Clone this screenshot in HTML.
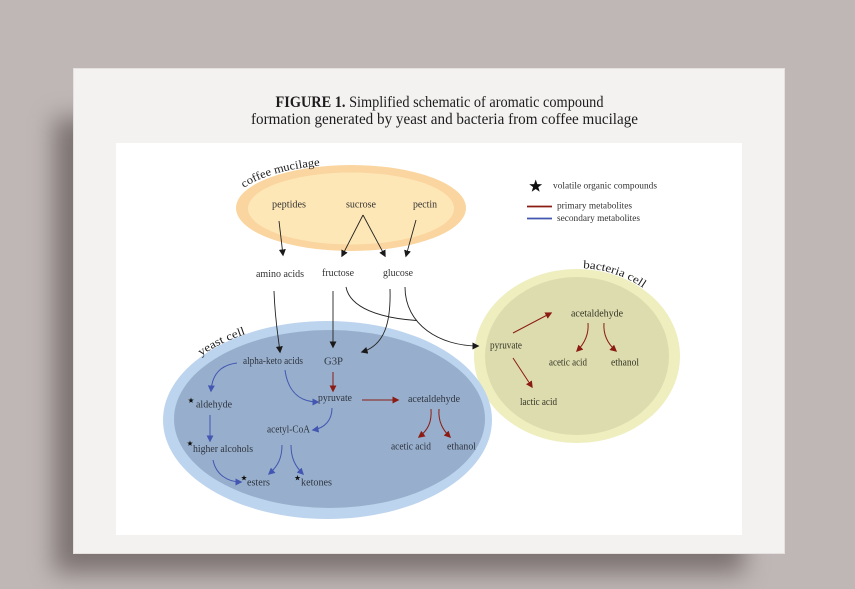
<!DOCTYPE html>
<html>
<head>
<meta charset="utf-8">
<style>
html,body{margin:0;padding:0;}
body{width:855px;height:589px;background:#bfb7b6;position:relative;overflow:hidden;font-family:"Liberation Serif",serif;}
.shadow{position:absolute;left:54px;top:118px;width:690px;height:455px;background:rgba(70,58,58,0.55);filter:blur(12px);}
.card{position:absolute;left:74px;top:69px;width:710px;height:484px;background:#f4f2f1;box-shadow:0 0 0 1px #e4e1df;}
svg{position:absolute;left:0;top:0;}
</style>
</head>
<body>
<div class="shadow"></div>
<div class="card"></div>
<svg width="855" height="589" viewBox="0 0 855 589" xmlns="http://www.w3.org/2000/svg">
  <defs>
    <marker id="ak" viewBox="0 0 10 10" refX="8" refY="5" markerWidth="7" markerHeight="7" markerUnits="userSpaceOnUse" orient="auto">
      <path d="M0,0 L10,5 L0,10 z" fill="#1a1a1a"/>
    </marker>
    <marker id="ar" viewBox="0 0 10 10" refX="8" refY="5" markerWidth="7" markerHeight="7" markerUnits="userSpaceOnUse" orient="auto">
      <path d="M0,0 L10,5 L0,10 z" fill="#8b1c14"/>
    </marker>
    <marker id="ab" viewBox="0 0 10 10" refX="8" refY="5" markerWidth="7" markerHeight="7" markerUnits="userSpaceOnUse" orient="auto">
      <path d="M0,0 L10,5 L0,10 z" fill="#4357b2"/>
    </marker>
    <path id="star" d="M0,-1 L0.235,-0.324 L0.951,-0.309 L0.380,0.124 L0.588,0.809 L0,0.4 L-0.588,0.809 L-0.380,0.124 L-0.951,-0.309 L-0.235,-0.324 Z"/>
    <path id="pCoffee" d="M244,188 A115,43 0 0,1 330,165"/>
    <path id="pBact" d="M583,268.2 A104,88 0 0,1 655,297.8"/>
    <path id="pYeast" d="M201,356 A165,99 0 0,1 257,330.5"/>
  </defs>

  <!-- Title -->
  <text x="275.5" y="107" font-size="16" fill="#1c1c1c" font-family="Liberation Serif, serif" textLength="328" lengthAdjust="spacingAndGlyphs"><tspan font-weight="bold">FIGURE 1.</tspan> Simplified schematic of aromatic compound</text>
  <text x="251" y="124" font-size="16" fill="#1c1c1c" font-family="Liberation Serif, serif" textLength="387" lengthAdjust="spacingAndGlyphs">formation generated by yeast and bacteria from coffee mucilage</text>

  <!-- inner white panel -->
  <rect x="116" y="143" width="626" height="392" fill="#ffffff"/>

  <!-- coffee mucilage ellipse -->
  <ellipse cx="351" cy="208" rx="115" ry="43" fill="#fad59f"/>
  <ellipse cx="351" cy="208.5" rx="103" ry="36" fill="#fee7b6"/>

  <!-- bacteria cell -->
  <ellipse cx="577" cy="356" rx="103" ry="87" fill="#efeebf"/>
  <ellipse cx="577" cy="356" rx="92" ry="79" fill="#dddcaf"/>

  <!-- yeast cell -->
  <ellipse cx="327.5" cy="420" rx="164.5" ry="99" fill="#bdd4ee"/>
  <ellipse cx="329.5" cy="419" rx="155.5" ry="89" fill="#97afcc"/>

  <!-- curved labels -->
  <text font-size="11.5" fill="#222" font-family="Liberation Serif, serif"><textPath href="#pCoffee" textLength="80" lengthAdjust="spacingAndGlyphs">coffee mucilage</textPath></text>
  <text font-size="11.5" fill="#222" font-family="Liberation Serif, serif"><textPath href="#pBact" textLength="64" lengthAdjust="spacingAndGlyphs">bacteria cell</textPath></text>
  <text font-size="11.5" fill="#222" font-family="Liberation Serif, serif"><textPath href="#pYeast" textLength="50" lengthAdjust="spacingAndGlyphs">yeast cell</textPath></text>

  <!-- legend -->
  <use href="#star" transform="translate(535.7,186.3) scale(6.8)" fill="#111"/>
  <text x="553" y="188.5" font-size="9.5" fill="#333" textLength="104" lengthAdjust="spacingAndGlyphs">volatile organic compounds</text>
  <line x1="527" y1="206.5" x2="552" y2="206.5" stroke="#8b1c14" stroke-width="1.8"/>
  <text x="557" y="208.5" font-size="9.5" fill="#333" textLength="75" lengthAdjust="spacingAndGlyphs">primary metabolites</text>
  <line x1="527" y1="218.5" x2="552" y2="218.5" stroke="#4357b2" stroke-width="1.8"/>
  <text x="557" y="221" font-size="9.5" fill="#333" textLength="83" lengthAdjust="spacingAndGlyphs">secondary metabolites</text>

  <g font-size="10" fill="#333" font-family="Liberation Serif, serif" text-anchor="start">
    <!-- mucilage labels -->
    <text x="272" y="207.5" textLength="34" lengthAdjust="spacingAndGlyphs">peptides</text>
    <text x="346" y="207.5" textLength="30" lengthAdjust="spacingAndGlyphs">sucrose</text>
    <text x="413" y="207.5" textLength="24" lengthAdjust="spacingAndGlyphs">pectin</text>
    <!-- sugars row -->
    <text x="256" y="277" textLength="48" lengthAdjust="spacingAndGlyphs">amino acids</text>
    <text x="322" y="276" textLength="32" lengthAdjust="spacingAndGlyphs">fructose</text>
    <text x="383" y="276" textLength="30" lengthAdjust="spacingAndGlyphs">glucose</text>
  </g>

  <g font-size="10" fill="#2f3440" font-family="Liberation Serif, serif">
    <!-- yeast labels -->
    <text x="243" y="364" textLength="60" lengthAdjust="spacingAndGlyphs">alpha-keto acids</text>
    <text x="324" y="364.5" textLength="19" lengthAdjust="spacingAndGlyphs">G3P</text>
    <text x="318" y="401" textLength="34" lengthAdjust="spacingAndGlyphs">pyruvate</text>
    <text x="408" y="402" textLength="52" lengthAdjust="spacingAndGlyphs">acetaldehyde</text>
    <text x="391" y="449.5" textLength="40" lengthAdjust="spacingAndGlyphs">acetic acid</text>
    <text x="447" y="449.5" textLength="29" lengthAdjust="spacingAndGlyphs">ethanol</text>
    <text x="267" y="432.5" textLength="43" lengthAdjust="spacingAndGlyphs">acetyl-CoA</text>
    <text x="196" y="407.5" textLength="36" lengthAdjust="spacingAndGlyphs">aldehyde</text>
    <text x="193" y="452" textLength="60" lengthAdjust="spacingAndGlyphs">higher alcohols</text>
    <text x="247" y="485.5" textLength="23" lengthAdjust="spacingAndGlyphs">esters</text>
    <text x="301" y="485.5" textLength="31" lengthAdjust="spacingAndGlyphs">ketones</text>
  </g>

  <g font-size="10" fill="#353525" font-family="Liberation Serif, serif">
    <!-- bacteria labels -->
    <text x="490" y="348.5" textLength="32" lengthAdjust="spacingAndGlyphs">pyruvate</text>
    <text x="571" y="316.5" textLength="52" lengthAdjust="spacingAndGlyphs">acetaldehyde</text>
    <text x="549" y="365.5" textLength="38" lengthAdjust="spacingAndGlyphs">acetic acid</text>
    <text x="611" y="365.5" textLength="28" lengthAdjust="spacingAndGlyphs">ethanol</text>
    <text x="520" y="405" textLength="37" lengthAdjust="spacingAndGlyphs">lactic acid</text>
  </g>

  <!-- small stars -->
  <use href="#star" transform="translate(191,400.5) scale(3)" fill="#111"/>
  <use href="#star" transform="translate(190,443.5) scale(3)" fill="#111"/>
  <use href="#star" transform="translate(244,478) scale(3)" fill="#111"/>
  <use href="#star" transform="translate(297.5,478) scale(3)" fill="#111"/>

  <!-- black arrows -->
  <g fill="none" stroke="#222" stroke-width="0.9" marker-end="url(#ak)">
    <path d="M279,221 L283,255"/>
    <path d="M363,215 L342,256"/>
    <path d="M363,215 L385,256"/>
    <path d="M416,220 L406,256"/>
    <path d="M274,291 C275,320 278,335 280,352"/>
    <path d="M333,291 L333,347"/>
    <path d="M390,289 C391,322 385,345 362,352"/>
    <path d="M405,287 C405,325 440,346 478,346"/>
  </g>
  <path d="M346,287 C350,308 380,318 416.5,320.5" fill="none" stroke="#222" stroke-width="0.9"/>

  <!-- red arrows -->
  <g fill="none" stroke="#8b1c14" stroke-width="1" marker-end="url(#ar)">
    <path d="M333,372 L333,391"/>
    <path d="M362,400 L398,400"/>
    <path d="M431,409 C432,422 428,430 419,437"/>
    <path d="M439,409 C438,422 443,430 450,437"/>
    <path d="M513,333 L551,313"/>
    <path d="M588,323 C589,335 584,344 577,351"/>
    <path d="M604,323 C603,335 608,344 616,351"/>
    <path d="M513,358 L532,387"/>
  </g>

  <!-- blue arrows -->
  <g fill="none" stroke="#4357b2" stroke-width="1" marker-end="url(#ab)">
    <path d="M237,363 C220,365 212,375 211,391"/>
    <path d="M285,370 C288,392 300,402 318,402"/>
    <path d="M332,408 C332,420 325,428 313,430"/>
    <path d="M210,415 L210,441"/>
    <path d="M213,460 C216,475 228,482 241,482"/>
    <path d="M282,445 C282,458 278,466 269,474"/>
    <path d="M291,445 C291,458 295,466 303,474"/>
  </g>
</svg>
</body>
</html>
